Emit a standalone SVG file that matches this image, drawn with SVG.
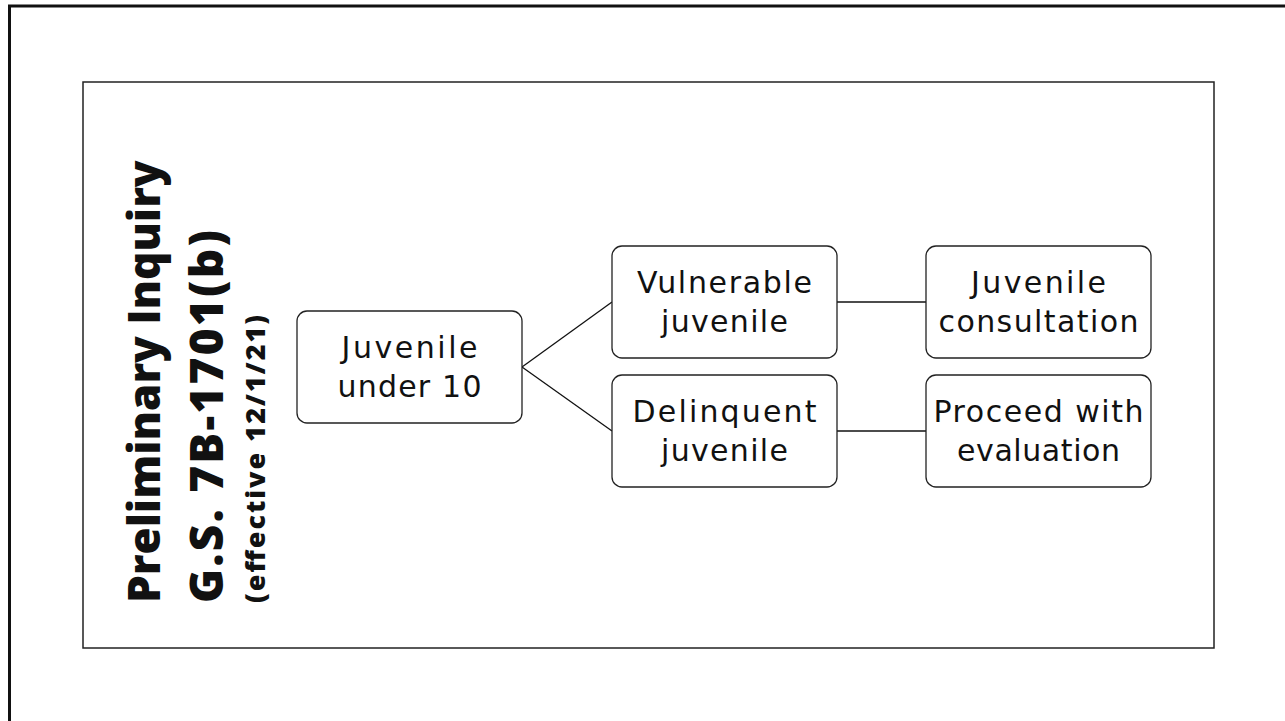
<svg xmlns="http://www.w3.org/2000/svg" width="1285" height="721" viewBox="0 0 1285 721">
<style>
.node rect{fill:#fff;stroke:#222;stroke-width:1.3}
.node text{font-family:"DejaVu Sans",Lato,sans-serif;font-size:30px;fill:#111;text-anchor:middle}
.conn line{stroke:#111;stroke-width:1.3}
.title text{font-family:"Open Sans",Lato,sans-serif;font-weight:800;fill:#111}
</style>
<rect x="0" y="0" width="1285" height="721" fill="#fff"/>
<rect id="outer-frame" x="9.5" y="6" width="1300" height="740" fill="none" stroke="#111" stroke-width="3"/>
<rect id="inner-frame" x="83" y="82" width="1131" height="566" fill="none" stroke="#222" stroke-width="1.5"/>
<g id="title" class="title">
<text transform="translate(160,603) rotate(-90)" font-size="44">Preliminary Inquiry</text>
<text transform="translate(223,603) rotate(-90)" font-size="46" textLength="373" lengthAdjust="spacing">G.S. 7B-1701(b)</text>
<text transform="translate(265,603) rotate(-90)" font-size="27" textLength="288" lengthAdjust="spacing">(effective 12/1/21)</text>
</g>
<g id="connectors" class="conn">
<line x1="522" y1="367" x2="612" y2="302"/>
<line x1="522" y1="367" x2="612" y2="431"/>
<line x1="837" y1="302" x2="926" y2="302"/>
<line x1="837" y1="431" x2="926" y2="431"/>
</g>
<g id="n-under10" class="node">
<rect x="297" y="311" width="225" height="112" rx="10"/>
<text x="409.5" y="358" textLength="136" lengthAdjust="spacing">Juvenile</text>
<text x="409.5" y="397" textLength="144" lengthAdjust="spacing">under 10</text>
</g>
<g id="n-vulnerable" class="node">
<rect x="612" y="246" width="225" height="112" rx="10"/>
<text x="724.5" y="293" textLength="175" lengthAdjust="spacing">Vulnerable</text>
<text x="724.5" y="332" textLength="127" lengthAdjust="spacing">juvenile</text>
</g>
<g id="n-delinquent" class="node">
<rect x="612" y="375" width="225" height="112" rx="10"/>
<text x="724.5" y="422" textLength="184" lengthAdjust="spacing">Delinquent</text>
<text x="724.5" y="461" textLength="127" lengthAdjust="spacing">juvenile</text>
</g>
<g id="n-consultation" class="node">
<rect x="926" y="246" width="225" height="112" rx="10"/>
<text x="1038.5" y="293" textLength="135" lengthAdjust="spacing">Juvenile</text>
<text x="1038.5" y="332" textLength="200" lengthAdjust="spacing">consultation</text>
</g>
<g id="n-proceed" class="node">
<rect x="926" y="375" width="225" height="112" rx="10"/>
<text x="1038.5" y="422" textLength="210" lengthAdjust="spacing">Proceed with</text>
<text x="1038.5" y="461" textLength="163" lengthAdjust="spacing">evaluation</text>
</g>
</svg>
